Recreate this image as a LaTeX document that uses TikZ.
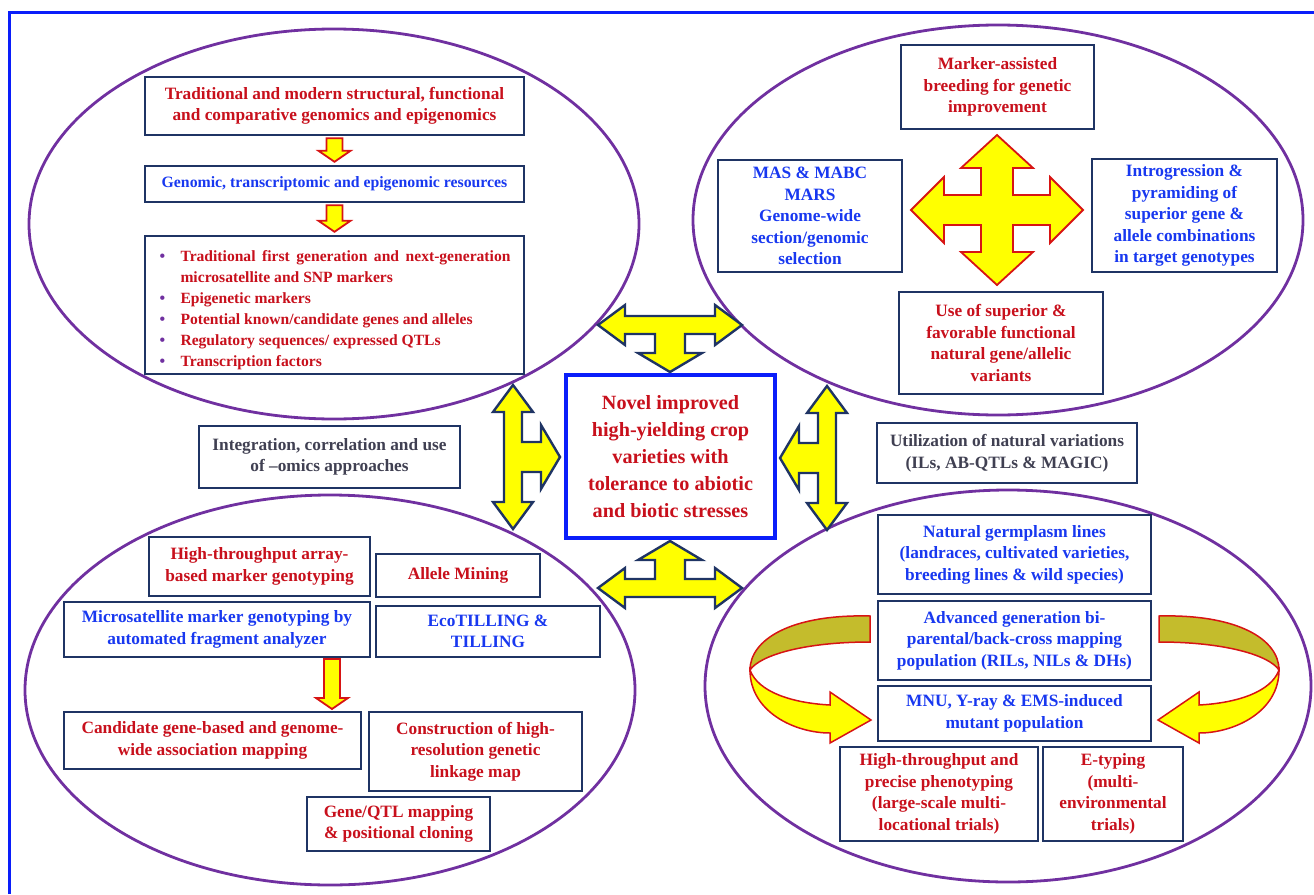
\documentclass[tikz,border=0pt]{standalone}
\usepackage{fontspec}
\setmainfont{Liberation Serif}
\usetikzlibrary{calc}
\definecolor{txtred}{RGB}{200,16,28}
\definecolor{txtblue}{RGB}{24,56,240}
\definecolor{txtgray}{RGB}{64,64,82}
\definecolor{navy}{RGB}{31,52,100}
\definecolor{ellpurple}{RGB}{112,48,160}
\definecolor{framblue}{RGB}{10,30,250}
\definecolor{olivebk}{RGB}{196,188,44}
\definecolor{yel}{RGB}{255,255,0}
\definecolor{arrred}{RGB}{215,20,20}
\tikzset{
  box/.style={draw=navy,line width=2.4pt,fill=white,inner sep=0pt,align=center,
    font=\fontsize{17.3}{21.5}\selectfont\bfseries},
  ell/.style={draw=ellpurple,line width=2.8pt},
  bigarrow/.style={draw=navy,line width=2.4pt,fill=yel,line join=miter},
  redarrow/.style={draw=arrred,line width=1.8pt,fill=yel,line join=miter},
  tri/.pic={\path[bigarrow] (0,-72) -- (20,-45) -- (9,-45) -- (9,-15) -- (28,-15) -- (28,-32)
    -- (47,0) -- (28,32) -- (28,15) -- (9,15) -- (9,45) -- (20,45) -- (0,72) -- (-20,45)
    -- (-9,45) -- (-9,-45) -- (-20,-45) -- cycle;}
}
\newcommand\fatdown[2]{\path[redarrow] ($(#1)+(-8,2)$) -- ($(#2)+(-8,-14)$) -- ($(#2)+(-16,-14)$)
  -- ($(#2)+(0,-3)$) -- ($(#2)+(16,-14)$) -- ($(#2)+(8,-14)$) -- ($(#1)+(8,2)$) -- cycle;}
\newcommand\blt[1]{\par\hangindent=22pt\hangafter=1\noindent
  \makebox[22pt][l]{\hspace{1pt}\textcolor{ellpurple}{\fontsize{16}{16}\selectfont\textbullet}}#1}
\begin{document}
\begin{tikzpicture}[x=1pt,y=-1pt]
\useasboundingbox (0,0) rectangle (1314,894);
\draw[framblue,line width=3pt] (9,894) -- (9,12) -- (1314,12);
%
\draw[ell] (334,224) ellipse [x radius=305pt,y radius=195pt];
\draw[ell] (998,220) ellipse [x radius=305pt,y radius=195pt];
\draw[ell] (330,690) ellipse [x radius=305pt,y radius=195pt];
\draw[ell] (1008,686) ellipse [x radius=303pt,y radius=196pt];
%
\pic at (513,457) {tri};
\pic[rotate=180] at (827,458) {tri};
\pic[rotate=-90] at (670,325) {tri};
\pic[rotate=90] at (670,588) {tri};
%
\node[box,draw=framblue,line width=3.2pt,text=txtred,minimum width=209pt,minimum height=163pt,
  font=\fontsize{20.2}{27}\selectfont\bfseries] (novel) at (670.5,456.5)
  {Novel improved\\high-yielding crop\\varieties with\\tolerance to abiotic\\and biotic stresses};
\node[box,text=txtgray,minimum width=261pt,minimum height=62pt] (integ) at (329.5,457)
  {Integration, correlation and use\\of --omics approaches};
\node[box,text=txtgray,minimum width=260pt,minimum height=60pt] (util) at (1007,453)
  {Utilization of natural variations\\(ILs, AB-QTLs \& MAGIC)};
%
\node[box,text=txtred,minimum width=379pt,minimum height=58pt] (trad) at (334.5,106)
  {Traditional and modern structural, functional\\and comparative genomics and epigenomics};
\node[box,text=txtblue,minimum width=379pt,minimum height=36pt,
  font=\fontsize{15.8}{20}\selectfont\bfseries] (res) at (334.5,184)
  {Genomic, transcriptomic and epigenomic resources};
\node[box,text=txtred,minimum width=379pt,minimum height=138pt,text width=352pt,align=justify,
  font=\fontsize{15.6}{21}\selectfont\bfseries] (mark) at (334.5,305)
  {\blt{Traditional first generation and next-generation\linebreak microsatellite and SNP markers}
   \blt{Epigenetic markers}
   \blt{Potential known/candidate  genes and alleles}
   \blt{Regulatory sequences/ expressed QTLs}
   \blt{Transcription factors}};
\fatdown{trad.south}{res.north}
\fatdown{res.south}{mark.north}
%
\node[box,text=txtred,minimum width=193pt,minimum height=84pt] (mab) at (997.5,87)
  {Marker-assisted\\breeding for genetic\\improvement};
\node[box,text=txtblue,minimum width=184pt,minimum height=112pt] (mas) at (810,216)
  {MAS \& MABC\\MARS\\Genome-wide\\section/genomic\\selection};
\node[box,text=txtblue,minimum width=185pt,minimum height=113pt] (intro) at (1184.5,215.5)
  {Introgression \&\\pyramiding of\\superior gene \&\\allele combinations\\in target genotypes};
\node[box,text=txtred,minimum width=204pt,minimum height=102pt] (use) at (1001,343)
  {Use of superior \&\\favorable functional\\natural gene/allelic\\variants};
\path[redarrow,shift={(997,210)}] (0,-75) -- (36,-42) -- (16,-42) -- (16,-15) -- (53,-15)
  -- (53,-33) -- (86,0) -- (53,33) -- (53,15) -- (16,15) -- (16,42) -- (36,42) -- (0,75)
  -- (-36,42) -- (-16,42) -- (-16,15) -- (-53,15) -- (-53,33) -- (-86,0) -- (-53,-33)
  -- (-53,-15) -- (-16,-15) -- (-16,-42) -- (-36,-42) -- cycle;
%
\node[box,text=txtred,minimum width=221pt,minimum height=59pt] (hta) at (259.5,566.5)
  {High-throughput array-\\based marker genotyping};
\node[box,text=txtred,minimum width=164pt,minimum height=43pt] (allele) at (458,575.5)
  {Allele Mining};
\node[box,text=txtblue,minimum width=306pt,minimum height=55pt] (micro) at (217,629.5)
  {Microsatellite marker genotyping by\\automated fragment analyzer};
\node[box,text=txtblue,minimum width=224pt,minimum height=51pt] (eco) at (488,631.5)
  {EcoTILLING \&\\TILLING};
\node[box,text=txtred,minimum width=297pt,minimum height=57pt] (cand) at (212.5,740.5)
  {Candidate gene-based and genome-\\wide association mapping};
\node[box,text=txtred,minimum width=213pt,minimum height=79pt] (constr) at (475.5,751.5)
  {Construction of high-\\resolution genetic\\linkage map};
\node[box,text=txtred,minimum width=183pt,minimum height=54pt] (qtl) at (398.5,824)
  {Gene/QTL mapping\\\& positional cloning};
\coordinate (mtop) at (332,657);
\coordinate (mbot) at (332,712);
\fatdown{mtop}{mbot}
%
\node[box,text=txtblue,minimum width=273pt,minimum height=79pt] (germ) at (1014.5,554.5)
  {Natural germplasm lines\\(landraces, cultivated varieties,\\breeding lines \& wild species)};
\node[box,text=txtblue,minimum width=273pt,minimum height=79pt] (adv) at (1014.5,640.5)
  {Advanced generation bi-\\parental/back-cross mapping\\population (RILs, NILs \& DHs)};
\node[box,text=txtblue,minimum width=273pt,minimum height=55pt] (mnu) at (1014.5,713.5)
  {MNU, Y-ray \& EMS-induced\\mutant population};
\node[box,text=txtred,minimum width=198pt,minimum height=94pt] (htp) at (939,794)
  {High-throughput and\\precise phenotyping\\(large-scale multi-\\locational trials)};
\node[box,text=txtred,minimum width=140pt,minimum height=94pt] (etyp) at (1113,794)
  {E-typing\\(multi-\\environmental\\trials)};
\foreach \s in {1,-1}{
\begin{scope}[shift={({1014.5-1014.5*\s},0)},xscale=\s]
\path[redarrow,fill=olivebk,line width=1.5pt] (870,616) .. controls (790,614) and (750,640) .. (750,670)
  .. controls (760,655) and (805,642) .. (870,642) -- cycle;
\path[redarrow,line width=1.5pt] (750,670) .. controls (750,712) and (795,733) .. (830,733) -- (830,743)
  -- (871,720) -- (830,692) -- (830,705) .. controls (792,703) and (758,692) .. (750,670) -- cycle;
\end{scope}}
\end{tikzpicture}
\end{document}
